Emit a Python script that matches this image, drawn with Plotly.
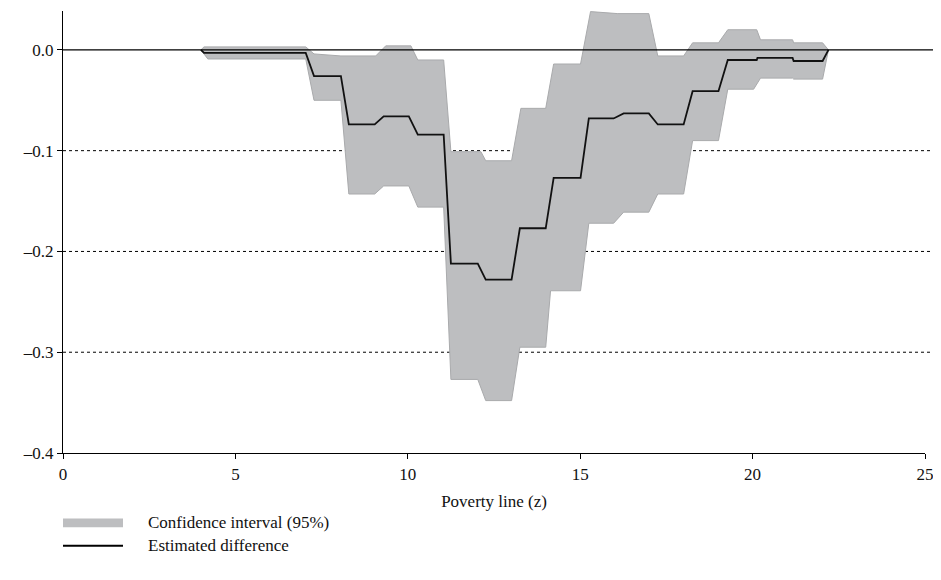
import plotly.graph_objects as go

est_x = [4.0, 4.09, 7.04, 7.28, 8.06, 8.29, 9.04, 9.3, 10.03, 10.29, 11.04, 11.25, 12.03, 12.26, 13.01, 13.25,
         14.0, 14.23, 15.01, 15.25, 15.97, 16.26, 16.99, 17.25, 18.0, 18.26, 19.01, 19.28, 20.12, 20.14, 21.16, 21.19, 22.03, 22.2]
est_y = [0.0, -0.003, -0.003, -0.026, -0.026, -0.074, -0.074, -0.066, -0.066, -0.084, -0.084, -0.212, -0.212, -0.228,
         -0.228, -0.177, -0.177, -0.127, -0.127, -0.068, -0.068, -0.063, -0.063, -0.074, -0.074, -0.041, -0.041, -0.010,
         -0.010, -0.008, -0.008, -0.011, -0.011, 0.0]

up_x = [4.0, 4.09, 7.04, 7.28, 8.06, 9.07, 9.36, 10.09, 10.29, 11.04, 11.25, 12.12, 12.26, 13.01, 13.28, 14.0, 14.23,
        15.01, 15.3, 16.09, 16.99, 17.25, 18.0, 18.26, 19.01, 19.28, 20.12, 20.23, 21.16, 21.19, 22.03, 22.2]
up_y = [0.0, 0.003, 0.003, -0.004, -0.006, -0.006, 0.004, 0.004, -0.010, -0.010, -0.101, -0.101, -0.110, -0.110, -0.058,
        -0.058, -0.014, -0.014, 0.038, 0.036, 0.036, -0.006, -0.006, 0.007, 0.007, 0.020, 0.020, 0.010, 0.010, 0.007, 0.007, 0.0]

lo_x = [4.0, 4.2, 7.04, 7.28, 8.06, 8.29, 9.04, 9.3, 10.03, 10.29, 11.04, 11.25, 12.03, 12.26, 13.01, 13.25, 14.0,
        14.14, 15.01, 15.25, 15.97, 16.26, 16.99, 17.25, 18.0, 18.26, 19.01, 19.28, 20.03, 20.23, 21.16, 21.19, 22.03, 22.2]
lo_y = [0.0, -0.009, -0.009, -0.050, -0.050, -0.143, -0.143, -0.135, -0.135, -0.156, -0.156, -0.327, -0.327, -0.348,
        -0.348, -0.295, -0.295, -0.239, -0.239, -0.172, -0.172, -0.161, -0.161, -0.143, -0.143, -0.090, -0.090, -0.039,
        -0.039, -0.028, -0.028, -0.029, -0.029, 0.0]

grid_vals = [0.0, -0.1, -0.2, -0.3]
y_ticks = [0.0, -0.1, -0.2, -0.3, -0.4]
y_labels = ["0.0", "\u20130.1", "\u20130.2", "\u20130.3", "\u20130.4"]
x_ticks = [0, 5, 10, 15, 20, 25]

FONT = "Times New Roman, Liberation Serif, DejaVu Serif, serif"
fig = go.Figure()
fig.add_trace(go.Scatter(x=up_x + lo_x[::-1], y=up_y + lo_y[::-1], fill="toself", mode="lines",
                         fillcolor="#bdbec0", line=dict(color="#a9aaac", width=1), hoverinfo="skip"))
fig.add_trace(go.Scatter(x=est_x, y=est_y, mode="lines", line=dict(color="#111111", width=1.8)))

ext = 1 + 28 / 862
for v in grid_vals:
    fig.add_shape(type="line", xref="paper", yref="y", x0=0, x1=ext, y0=v, y1=v,
                  line=dict(color="black", width=1.2 if v == 0 else 1, dash="solid" if v == 0 else "dot"),
                  layer="above" if v == 0 else "below")

# legend
fig.add_shape(type="rect", xref="paper", yref="paper", x0=0, x1=60 / 862, y0=-0.148, y1=-0.168,
              fillcolor="#bdbec0", line=dict(width=0))
fig.add_shape(type="line", xref="paper", yref="paper", x0=0, x1=60 / 862, y0=-0.21, y1=-0.21,
              line=dict(color="black", width=2))
fig.add_annotation(xref="paper", yref="paper", x=83 / 862, y=-0.158, text="Confidence interval (95%)",
                   showarrow=False, xanchor="left", yanchor="middle", font=dict(family=FONT, size=17, color="#111"))
fig.add_annotation(xref="paper", yref="paper", x=83 / 862, y=-0.21, text="Estimated difference",
                   showarrow=False, xanchor="left", yanchor="middle", font=dict(family=FONT, size=17, color="#111"))

fig.update_layout(
    width=941, height=580, showlegend=False, plot_bgcolor="white", paper_bgcolor="white",
    margin=dict(l=55, r=24, t=3, b=135),
    font=dict(family=FONT, size=17, color="#111"),
    xaxis=dict(range=[0, 25], tickvals=x_ticks, showgrid=False, zeroline=False, showline=True,
               linecolor="black", linewidth=1.2, ticks="outside", ticklen=5, tickcolor="black",
               tickfont=dict(family=FONT, size=17),
               title=dict(text="Poverty line (z)", standoff=12, font=dict(family=FONT, size=17))),
    yaxis=dict(range=[-0.4, 0.0386], tickvals=y_ticks, ticktext=y_labels, showgrid=False, zeroline=False,
               tickfont=dict(family=FONT, size=17),
               showline=True, linecolor="black", linewidth=1.2, ticks="outside", ticklen=5, tickcolor="black"),
)
fig.write_html("out.html")
